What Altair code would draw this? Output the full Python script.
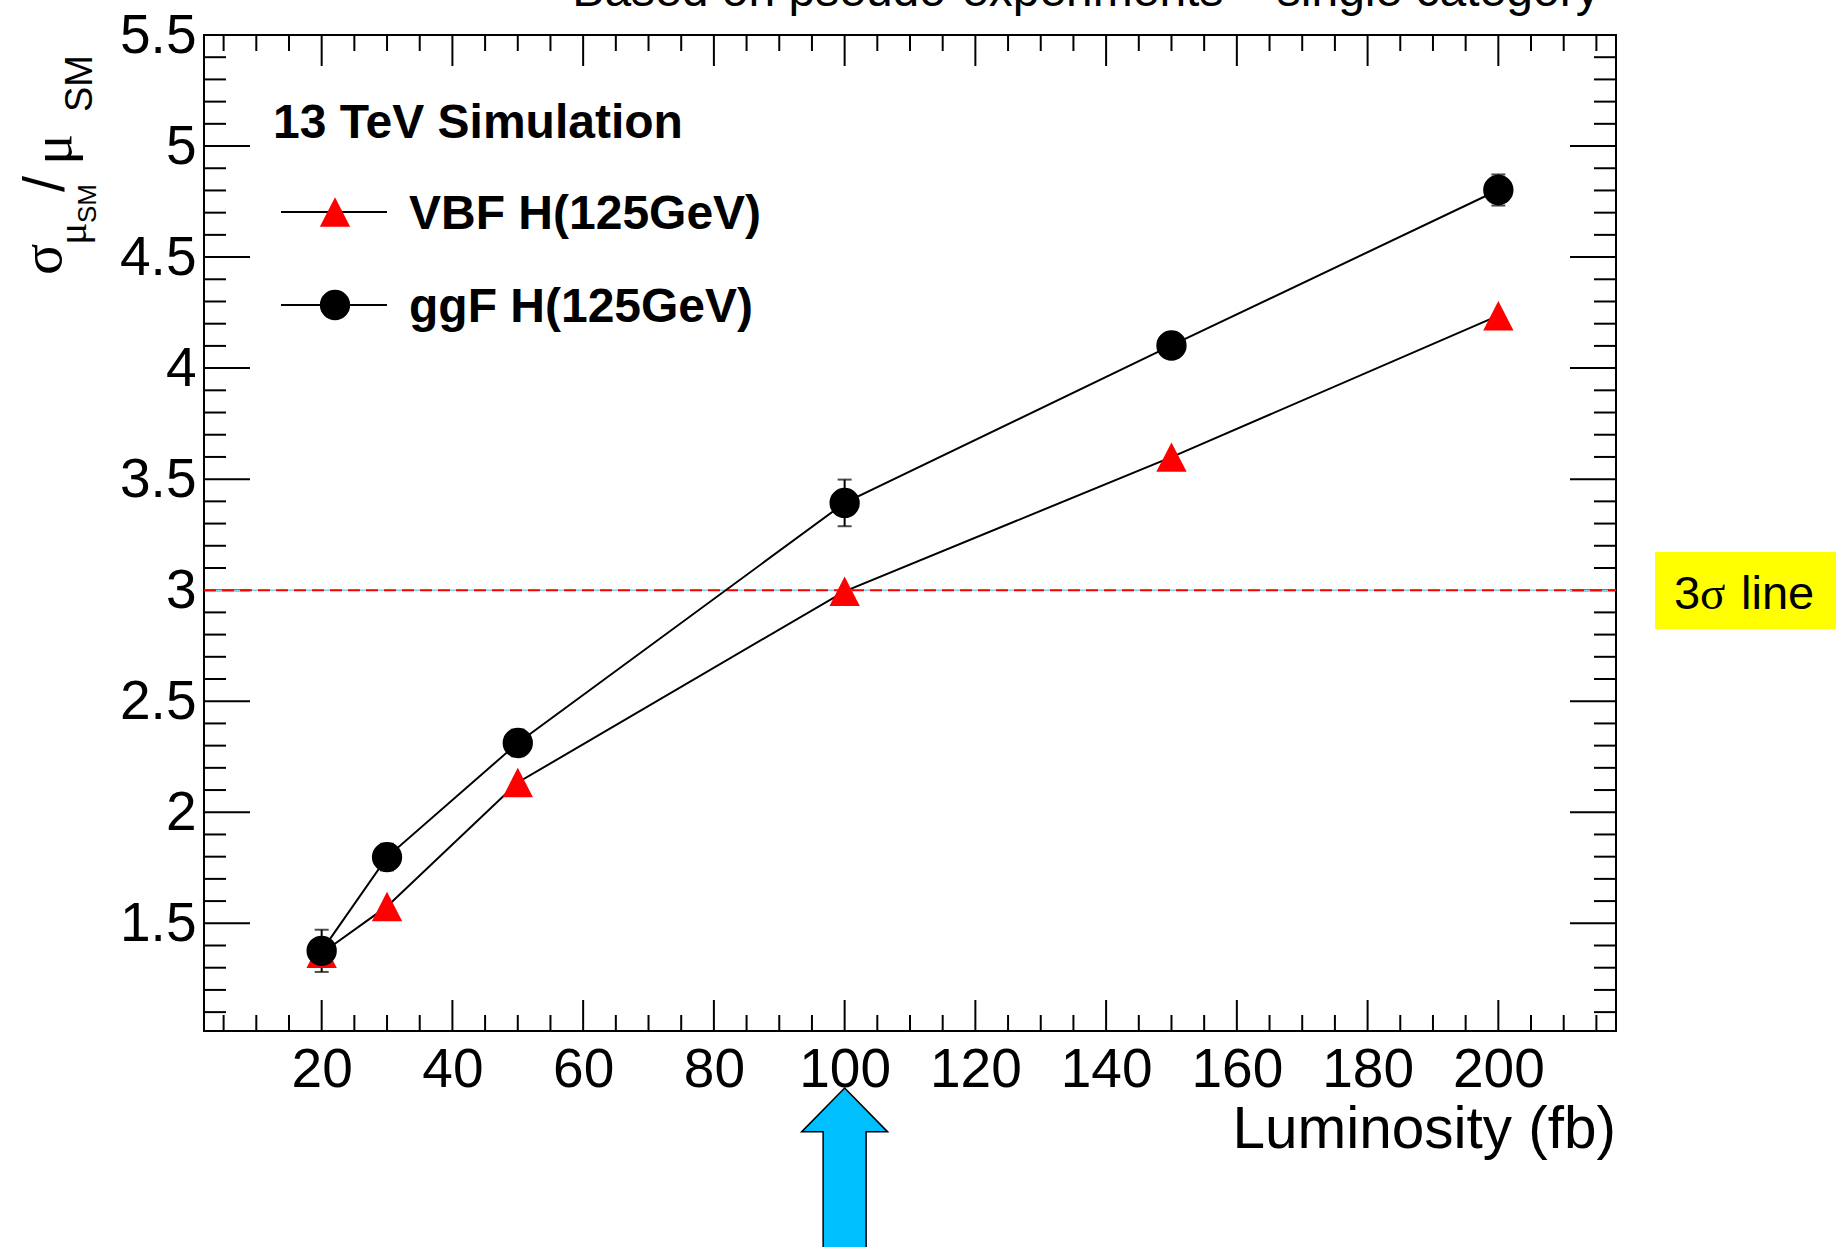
import altair as alt
import pandas as pd

# Luminosity points (fb) and sigma_mu / mu for the two production modes
lumi = [20, 30, 50, 100, 150, 200]
vbf_sigma = [1.365, 1.576, 2.134, 2.995, 3.599, 4.236]
ggf_sigma = [1.376, 1.798, 2.312, 3.393, 4.102, 4.802]
ggf_err = [0.095, 0.06, 0.06, 0.105, 0.05, 0.07]

series_names = ["VBF H(125GeV)", "ggF H(125GeV)"]
series_colors = ["#ff0000", "#000000"]

threshold = [3.0]
arrow_at = [100]

# axis ticks (ROOT style: inward, on all four sides)
x_major = [20, 40, 60, 80, 100, 120, 140, 160, 180, 200]
x_minor = [v for v in range(5, 220, 5) if v % 20 != 0]
y_major = [1.5, 2.0, 2.5, 3.0, 3.5, 4.0, 4.5, 5.0, 5.5]
y_minor = [v / 10 for v in range(11, 55) if v % 5 != 0]

W, H = 1412, 996
SANS = "Liberation Sans"
SERIF = "Liberation Serif"

xs = alt.Scale(domain=[2, 218], nice=False, zero=False)
ys = alt.Scale(domain=[1.015, 5.5], nice=False, zero=False)

x_axis = alt.Axis(values=x_major, format="d", ticks=False, domain=False, grid=False,
                  labelFont=SANS, labelFontSize=55, labelColor="black",
                  labelPadding=12, title=None, labelFlush=False, labelOverlap=False)
y_axis = alt.Axis(values=y_major, format=".1~f", ticks=False, domain=False, grid=False,
                  labelFont=SANS, labelFontSize=55, labelColor="black",
                  labelPadding=8, title=None, labelOverlap=False)


def X(field):
    return alt.X(field, type="quantitative", scale=xs, axis=x_axis)


def Y(field):
    return alt.Y(field, type="quantitative", scale=ys, axis=y_axis)


def one_row(**kw):
    return pd.DataFrame([kw]) if kw else pd.DataFrame([{"k": 0}])


layers = []

# tick marks
xmaj = pd.DataFrame({"v": x_major})
xmin = pd.DataFrame({"v": x_minor})
ymaj = pd.DataFrame({"v": y_major})
ymin = pd.DataFrame({"v": y_minor})
tick = dict(color="black", strokeWidth=2)

layers.append(alt.Chart(xmaj).mark_rule(**tick).encode(
    x=X("v"), y=alt.value(H), y2=alt.value(H - 31)))
layers.append(alt.Chart(xmaj).mark_rule(**tick).encode(
    x=X("v"), y=alt.value(0), y2=alt.value(31)))
layers.append(alt.Chart(xmin).mark_rule(**tick).encode(
    x=X("v"), y=alt.value(H), y2=alt.value(H - 16)))
layers.append(alt.Chart(xmin).mark_rule(**tick).encode(
    x=X("v"), y=alt.value(0), y2=alt.value(16)))
layers.append(alt.Chart(ymaj).mark_rule(**tick).encode(
    y=Y("v"), x=alt.value(0), x2=alt.value(46)))
layers.append(alt.Chart(ymaj).mark_rule(**tick).encode(
    y=Y("v"), x=alt.value(W), x2=alt.value(W - 46)))
layers.append(alt.Chart(ymin).mark_rule(**tick).encode(
    y=Y("v"), x=alt.value(0), x2=alt.value(22)))
layers.append(alt.Chart(ymin).mark_rule(**tick).encode(
    y=Y("v"), x=alt.value(W), x2=alt.value(W - 22)))

# 3 sigma reference line
thr = pd.DataFrame({"v": threshold})
layers.append(alt.Chart(thr).mark_rule(color="#7fd6ea", strokeWidth=1.5).encode(
    y=Y("v"), x=alt.value(0), x2=alt.value(W)))
layers.append(alt.Chart(thr).mark_rule(color="#ff0000", strokeWidth=2, strokeDash=[12, 6]).encode(
    y=Y("v"), x=alt.value(0), x2=alt.value(W)))

# connecting lines
long = pd.DataFrame({
    "lumi": lumi * 2,
    "sigma": vbf_sigma + ggf_sigma,
    "series": [series_names[0]] * len(lumi) + [series_names[1]] * len(lumi),
})
layers.append(alt.Chart(long).mark_line(color="black", strokeWidth=2).encode(
    x=X("lumi"), y=Y("sigma"), detail="series:N"))

# error bars on ggF
err = pd.DataFrame({
    "lumi": lumi,
    "lo": [s - e for s, e in zip(ggf_sigma, ggf_err)],
    "hi": [s + e for s, e in zip(ggf_sigma, ggf_err)],
})
layers.append(alt.Chart(err).mark_rule(color="black", strokeWidth=2).encode(
    x=X("lumi"), y=Y("lo"), y2="hi"))
layers.append(alt.Chart(err).mark_tick(color="black", orient="horizontal", size=14, thickness=2).encode(
    x=X("lumi"), y=Y("hi")))
layers.append(alt.Chart(err).mark_tick(color="black", orient="horizontal", size=14, thickness=2).encode(
    x=X("lumi"), y=Y("lo")))

TRI = "M0,-0.97 L1,0.97 L-1,0.97 Z"
shapes = [TRI, "circle"]

vbf = pd.DataFrame({"lumi": lumi, "sigma": vbf_sigma})
ggf = pd.DataFrame({"lumi": lumi, "sigma": ggf_sigma})
for df, shape, col in [(vbf, shapes[0], series_colors[0]), (ggf, shapes[1], series_colors[1])]:
    layers.append(alt.Chart(df).mark_point(shape=shape, size=920, filled=True, opacity=1,
                                           color=col, strokeWidth=0).encode(
        x=X("lumi"), y=Y("sigma")))

# legend
layers.append(alt.Chart(one_row(t="13 TeV Simulation")).mark_text(
    font=SANS, fontSize=48, fontWeight="bold", align="left", baseline="middle", color="black").encode(
    x=alt.value(69), y=alt.value(89), text="t:N"))
for i, (name, shape, col) in enumerate(zip(series_names, shapes, series_colors)):
    yy = 177 + 93 * i
    row = one_row(name=name)
    layers.append(alt.Chart(row).mark_rule(color="black", strokeWidth=2).encode(
        x=alt.value(77), x2=alt.value(183), y=alt.value(yy)))
    layers.append(alt.Chart(row).mark_point(shape=shape, size=920, filled=True, opacity=1,
                                            color=col, strokeWidth=0).encode(
        x=alt.value(131), y=alt.value(yy)))
    layers.append(alt.Chart(row).mark_text(
        font=SANS, fontSize=48, fontWeight="bold", align="left", baseline="middle", color="black").encode(
        x=alt.value(205), y=alt.value(yy + 3), text="name:N"))

# titles
layers.append(alt.Chart(one_row(t="Based on pseudo-experiments \u2013 single category")).mark_text(
    font=SANS, fontSize=48, align="center", baseline="alphabetic", color="black").encode(
    x=alt.value(882), y=alt.value(-29), text="t:N"))
layers.append(alt.Chart(one_row(t="Luminosity (fb)")).mark_text(
    font=SANS, fontSize=58.5, align="right", baseline="alphabetic", color="black").encode(
    x=alt.value(W), y=alt.value(1113), text="t:N"))

# rotated y title: sigma_{mu_SM} / mu_SM
ytitle_parts = [
    ("\u03c3", SERIF, 58, -143, 240),
    ("\u03bc", SERIF, 42, -118, 210),
    ("SM", SANS, 26, -108, 188),
    ("/", SANS, 58, -140, 157),
    ("\u03bc", SERIF, 58, -133, 130),
    ("SM", SANS, 38, -112, 77),
]
for txt, fnt, fs, px, py in ytitle_parts:
    layers.append(alt.Chart(one_row(t=txt)).mark_text(
        font=fnt, fontSize=fs, align="left", baseline="alphabetic", angle=270, color="black").encode(
        x=alt.value(px), y=alt.value(py), text="t:N"))

# 3 sigma tag
layers.append(alt.Chart(one_row()).mark_rect(color="#ffff00").encode(
    x=alt.value(1451), x2=alt.value(1632), y=alt.value(517), y2=alt.value(594)))
for txt, fnt, px in [("3", SANS, 1470), ("\u03c3", SERIF, 1496), ("line", SANS, 1537)]:
    layers.append(alt.Chart(one_row(t=txt)).mark_text(
        font=fnt, fontSize=47, align="left", baseline="middle", color="black").encode(
        x=alt.value(px), y=alt.value(560), text="t:N"))

# arrow pointing at 100 fb
ARROW = "M0,0 L1,1.02 L0.5,1.02 L0.5,4.2 L-0.5,4.2 L-0.5,1.02 L-1,1.02 Z"
layers.append(alt.Chart(pd.DataFrame({"lumi": arrow_at})).mark_point(
    shape=ARROW, size=86 * 86, filled=True, opacity=1, fill="#00bfff", stroke="black",
    strokeWidth=1.5).encode(x=X("lumi"), y=alt.value(1053)))

chart = alt.layer(*layers).properties(
    width=W, height=H,
    autosize=alt.AutoSizeParams(type="none"),
    padding={"left": 204, "top": 35, "right": 220, "bottom": 216},
    background="white",
).configure_view(stroke="black", strokeWidth=2)

chart.save("out.html", embed_options={"renderer": "svg", "actions": False})
